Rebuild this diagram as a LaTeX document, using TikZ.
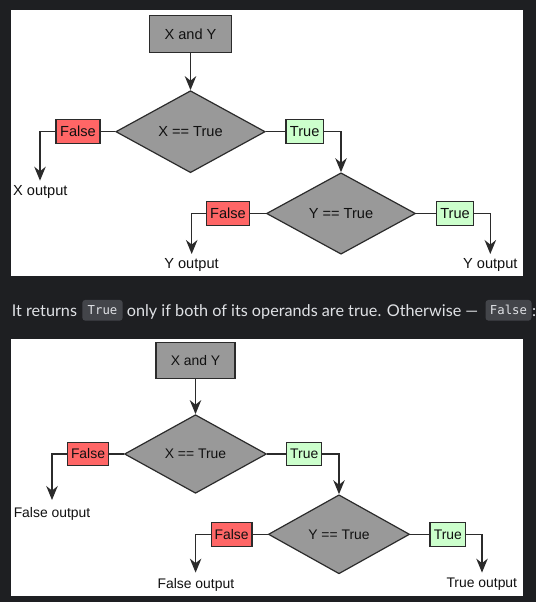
\documentclass[tikz,border=0pt]{standalone}
\usepackage{fontspec}
\setmainfont{Liberation Sans}
\newfontfamily\uifont{Lato}
\newfontfamily\codefont{DejaVu Sans Mono}
\usetikzlibrary{shapes.geometric,arrows.meta}
\definecolor{bg}{HTML}{1E1F22}
\definecolor{chip}{HTML}{43454A}
\definecolor{uitext}{HTML}{DFE1E5}
\definecolor{nodegray}{HTML}{999999}
\definecolor{linec}{HTML}{2B2B2B}
\definecolor{falsefill}{HTML}{FF6666}
\definecolor{truefill}{HTML}{CCFFCC}
\definecolor{labtext}{HTML}{111111}
\tikzset{
  base/.style={draw=linec, line width=1.2pt, inner sep=0pt, text=labtext},
  gbox/.style={base, rectangle, fill=nodegray},
  dia/.style={base, diamond, fill=nodegray, aspect=1.8},
  fbox/.style={base, rectangle, fill=falsefill},
  tbox/.style={base, rectangle, fill=truefill},
  conn/.style={draw=linec, line width=1.2pt},
  flow/.style={conn, -{Stealth[length=14pt,width=11.5pt]}},
  outlab/.style={inner sep=0pt, text=labtext},
  chipbox/.style={fill=chip, rounded corners=3pt, inner sep=0pt, text=uitext, font=\codefont\fontsize{12.3}{14}\selectfont},
  uitxt/.style={inner sep=0pt, text=uitext, anchor=base west, font=\uifont\fontsize{16.2}{19}\selectfont}
}
\begin{document}
\begin{tikzpicture}[x=1pt,y=-1pt]
\useasboundingbox[fill=bg] (0,0) rectangle (536,602);
\fill[white] (11,10) rectangle (523,276);
\fill[white] (11,339) rectangle (523,596);

% ---------- panel 1 ----------
\begin{scope}[font=\fontsize{14.6}{17}\selectfont]
\node[gbox, minimum width=82.4pt, minimum height=36.6pt] (xya) at (190.5,34) {X and Y};
\node[dia, minimum width=149.4pt, minimum height=82pt] (da) at (190.5,131.7) {X == True};
\node[fbox, minimum width=44pt, minimum height=24pt] (fa) at (78,131.7) {False};
\node[tbox, minimum width=37.3pt, minimum height=24pt] (ta) at (304.7,131.7) {True};
\node[dia, minimum width=149pt, minimum height=81.4pt] (db) at (341,213.5) {Y == True};
\node[fbox, minimum width=42.6pt, minimum height=24pt] (fb) at (228,213.5) {False};
\node[tbox, minimum width=37.4pt, minimum height=24pt] (tb) at (455,213.5) {True};
\coordinate (ea) at (40,180.7);
\coordinate (eb) at (191.7,254);
\coordinate (ec) at (490.3,254);
\node[outlab] (la) at (40.3,192) {X output};
\node[outlab] (lb) at (191.5,265) {Y output};
\node[outlab] (lc) at (490.3,265) {Y output};
\draw[flow] (xya.south) -- (da.north);
\draw[conn] (da.west) -- (fa.east);
\draw[flow] (fa.west) -| (ea);
\draw[conn] (da.east) -- (ta.west);
\draw[flow] (ta.east) -| (db.north);
\draw[conn] (db.west) -- (fb.east);
\draw[flow] (fb.west) -| (eb);
\draw[conn] (db.east) -- (tb.west);
\draw[flow] (tb.east) -| (ec);
\end{scope}

% ---------- text line ----------
\node[uitxt] (s1) at (11.7,316) {It returns};
\node[chipbox, minimum width=40.4pt, minimum height=20.7pt] (c1) at (102.5,310.3) {True};
\node[uitxt] (s2) at (126.7,316) {only if both of its operands are true. Otherwise —};
\node[chipbox, minimum width=46pt, minimum height=20.7pt] (c2) at (508.5,310.3) {False};
\node[uitxt] (s3) at (532,316) {:};

% ---------- panel 2 ----------
\begin{scope}[font=\fontsize{13.9}{16}\selectfont]
\node[gbox, minimum width=79pt, minimum height=35.6pt] (xyc) at (195.5,360.5) {X and Y};
\node[dia, minimum width=142pt, minimum height=78.6pt] (dc) at (195.5,454) {X == True};
\node[fbox, minimum width=40.6pt, minimum height=23.7pt] (fc) at (88,454) {False};
\node[tbox, minimum width=35pt, minimum height=23.7pt] (tc) at (304.2,454) {True};
\node[dia, minimum width=141.2pt, minimum height=79pt] (dd) at (339,534.3) {Y == True};
\node[fbox, minimum width=40.7pt, minimum height=24pt] (fd) at (231.6,534.3) {False};
\node[tbox, minimum width=35.6pt, minimum height=24pt] (td) at (447.8,534.3) {True};
\coordinate (ed) at (52,500);
\coordinate (ee) at (195.6,572.6);
\coordinate (ef) at (482,572.6);
\node[outlab] (ld) at (52,513.4) {False output};
\node[outlab] (le) at (195.9,584.5) {False output};
\node[outlab] (lf) at (481.8,584.5) {True output};
\draw[flow] (xyc.south) -- (dc.north);
\draw[conn] (dc.west) -- (fc.east);
\draw[flow] (fc.west) -| (ed);
\draw[conn] (dc.east) -- (tc.west);
\draw[flow] (tc.east) -| (dd.north);
\draw[conn] (dd.west) -- (fd.east);
\draw[flow] (fd.west) -| (ee);
\draw[conn] (dd.east) -- (td.west);
\draw[flow] (td.east) -| (ef);
\end{scope}
\end{tikzpicture}
\end{document}
